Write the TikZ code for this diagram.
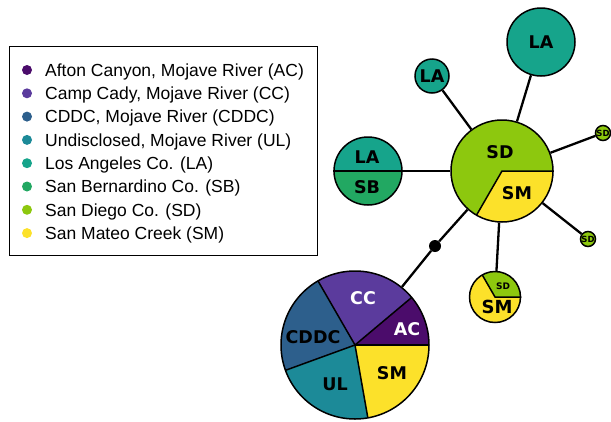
\documentclass[tikz,border=0pt]{standalone}
\usepackage{fontspec}
\setmainfont{Liberation Sans}
\newfontfamily\labelfont{DejaVu Sans}
\usetikzlibrary{arrows,shapes,backgrounds}

\definecolor{cAC}{HTML}{4B0C6B}
\definecolor{cCC}{HTML}{5B3B9D}
\definecolor{cCDDC}{HTML}{2D5F8C}
\definecolor{cUL}{HTML}{1C8A98}
\definecolor{cLA}{HTML}{16A48B}
\definecolor{cSB}{HTML}{22A862}
\definecolor{cSD}{HTML}{8DC80E}
\definecolor{cSM}{HTML}{FCE12A}

\begin{document}
\begin{tikzpicture}[x=1pt,y=-1pt,
    disc/.style={circle,draw,line width=1.5pt,inner sep=0pt,minimum size=#1},
    lbl/.style={inner sep=0pt,font=\labelfont\bfseries\fontsize{17.5}{17.5}\selectfont},
    tiny/.style={inner sep=0pt,font=\labelfont\bfseries\fontsize{#1}{#1}\selectfont},
    link/.style={line width=2.3pt}]
\useasboundingbox (0,0) rectangle (611,421);

% legend
\node[draw,line width=1.2pt,minimum width=308pt,minimum height=209pt,
      anchor=north west,inner sep=0pt] (legend) at (9,46) {};
\foreach \c/\t [count=\i] in {cAC/{Afton Canyon, Mojave River (AC)},
    cCC/{Camp Cady, Mojave River (CC)},
    cCDDC/{CDDC, Mojave River (CDDC)},
    cUL/{Undisclosed, Mojave River (UL)},
    cLA/{Los Angeles Co. (LA)},
    cSB/{San Bernardino Co. (SB)},
    cSD/{San Diego Co. (SD)},
    cSM/{San Mateo Creek (SM)}}
{
  \fill[\c] (27,{70+23.3*(\i-1)}) circle (5pt);
  \node[anchor=base west,inner sep=0pt,font=\fontsize{17.5}{21}\selectfont]
    (key\i) at (45,{76.3+23.3*(\i-1)}) {\t};
}

% haplotype circles
\node[disc=102pt] (sd) at (502,171) {};
\node[disc=68pt,fill=cLA,lbl] (laBig) at (541,42) {LA};
\node[disc=34pt,fill=cLA,lbl] (laSmall) at (432,76) {LA};
\node[disc=68pt] (lasb) at (368,171) {};
\node[disc=15pt,fill=cSD,tiny=8.5] (sdTop) at (603,133) {SD};
\node[disc=15pt,fill=cSD,tiny=8.5] (sdLow) at (588,239) {SD};
\node[disc=51pt] (smsd) at (495,297) {};
\node[disc=148pt] (pie) at (355,345) {};
\node[circle,fill=black,inner sep=0pt,minimum size=12pt] (hub) at (435,246) {};

\begin{scope}[on background layer]
\fill[cSD] (sd.center) -- +(0:51pt) arc[start angle=0,end angle=240,radius=51pt] -- cycle;
\fill[cSM] (sd.center) -- +(240:51pt) arc[start angle=240,end angle=360,radius=51pt] -- cycle;
\fill[cLA] (lasb.center) -- +(0:34pt) arc[start angle=0,end angle=180,radius=34pt] -- cycle;
\fill[cSB] (lasb.center) -- +(180:34pt) arc[start angle=180,end angle=360,radius=34pt] -- cycle;
\fill[cSD] (smsd.center) -- +(0:25.5pt) arc[start angle=0,end angle=120,radius=25.5pt] -- cycle;
\fill[cSM] (smsd.center) -- +(120:25.5pt) arc[start angle=120,end angle=360,radius=25.5pt] -- cycle;
\fill[cAC] (pie.center) -- +(0:74pt) arc[start angle=0,end angle=40,radius=74pt] -- cycle;
\fill[cCC] (pie.center) -- +(40:74pt) arc[start angle=40,end angle=120,radius=74pt] -- cycle;
\fill[cCDDC] (pie.center) -- +(120:74pt) arc[start angle=120,end angle=200,radius=74pt] -- cycle;
\fill[cUL] (pie.center) -- +(200:74pt) arc[start angle=200,end angle=280,radius=74pt] -- cycle;
\fill[cSM] (pie.center) -- +(280:74pt) arc[start angle=280,end angle=360,radius=74pt] -- cycle;
\end{scope}

% slice borders
\draw[line width=1.5pt] (sd.east) -- (sd.center) -- +(240:51pt);
\draw[line width=1.5pt] (lasb.west) -- (lasb.east);
\draw[line width=1.5pt] (smsd.east) -- (smsd.center) -- +(120:25.5pt);
\foreach \a in {0,40,120,200,280}
  \draw[line width=1.5pt] (pie.center) -- +(\a:74pt);

% slice labels
\node[lbl] (sdTxt) at (500,152) {SD};
\node[lbl] (smTxt) at (517,193) {SM};
\node[lbl] (laTxt) at (367,157) {LA};
\node[lbl] (sbTxt) at (367,187) {SB};
\node[tiny=9] (sdSmall) at (503,286) {SD};
\node[tiny=18] (smSmall) at (497,307) {SM};
\node[lbl,white] (ccTxt) at (363,298) {CC};
\node[lbl,white] (acTxt) at (407,329) {AC};
\node[lbl] (cddcTxt) at (313,337) {CDDC};
\node[lbl] (ulTxt) at (335,384) {UL};
\node[lbl] (smPie) at (392,373) {SM};

% links
\draw[link] (sd) -- (laBig);
\draw[link] (sd) -- (laSmall);
\draw[link] (sd) -- (sdTop);
\draw[link] (sd) -- (sdLow);
\draw[link] (sd) -- (smsd);
\draw[link] (sd) -- (lasb);
\draw[link] (sd) -- (hub) -- (pie);

\end{tikzpicture}
\end{document}
